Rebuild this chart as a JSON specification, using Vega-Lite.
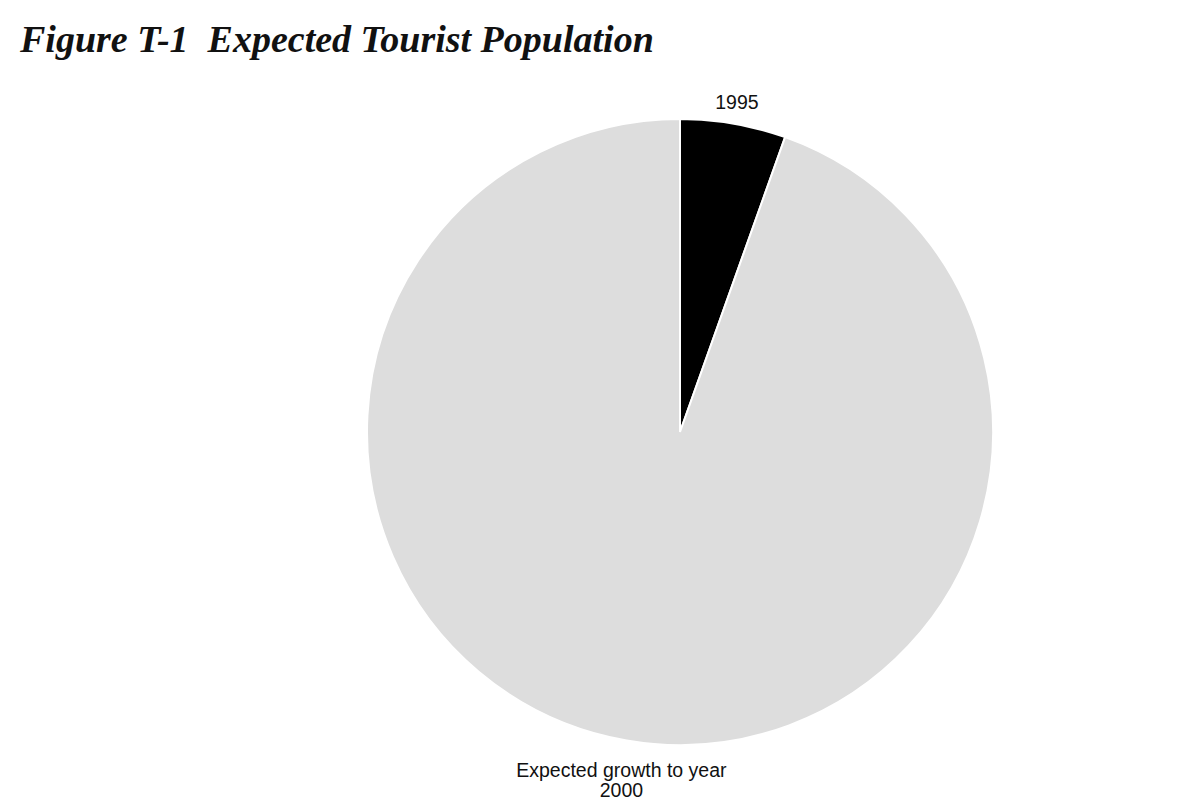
{
  "$schema": "https://vega.github.io/schema/vega-lite/v6.json",
  "width": 1048,
  "height": 738,
  "autosize": {"type": "none"},
  "padding": {"left": 156, "top": 63, "right": 0, "bottom": 0},
  "background": "white",
  "title": {
    "text": "Figure T-1\u00a0 Expected Tourist Population",
    "anchor": "start",
    "frame": "group",
    "dx": -136,
    "dy": 40,
    "offset": 13,
    "baseline": "alphabetic",
    "font": "Liberation Serif",
    "fontSize": 38,
    "fontStyle": "italic",
    "fontWeight": "bold",
    "color": "#111111"
  },
  "data": {
    "values": [
      {"part": "1995", "label": "1995", "share": 5.45},
      {"part": "Expected growth to year 2000", "label": "Expected growth to year\n2000", "share": 94.55}
    ]
  },
  "encoding": {
    "theta": {"field": "share", "type": "quantitative", "stack": true},
    "order": {"field": "part", "type": "nominal", "sort": "ascending"}
  },
  "layer": [
    {
      "mark": {"type": "arc", "radius": 313, "stroke": "white", "strokeWidth": 2},
      "encoding": {
        "color": {
          "field": "part",
          "type": "nominal",
          "scale": {"domain": ["1995", "Expected growth to year 2000"], "range": ["#000000", "#dddddd"]},
          "legend": null
        }
      }
    },
    {
      "mark": {"type": "text", "font": "Liberation Sans", "fontSize": 19.5, "color": "#111111", "baseline": "middle", "radius": 334},
      "encoding": {
        "text": {"condition": {"test": "datum.part == '1995'", "field": "label"}, "value": ""}
      }
    },
    {
      "mark": {"type": "text", "font": "Liberation Sans", "fontSize": 19.5, "lineBreak": "\n", "lineHeight": 20, "color": "#111111", "baseline": "middle", "radius": 344},
      "encoding": {
        "text": {"condition": {"test": "datum.part != '1995'", "field": "label"}, "value": ""}
      }
    }
  ],
  "config": {"view": {"stroke": null}}
}
